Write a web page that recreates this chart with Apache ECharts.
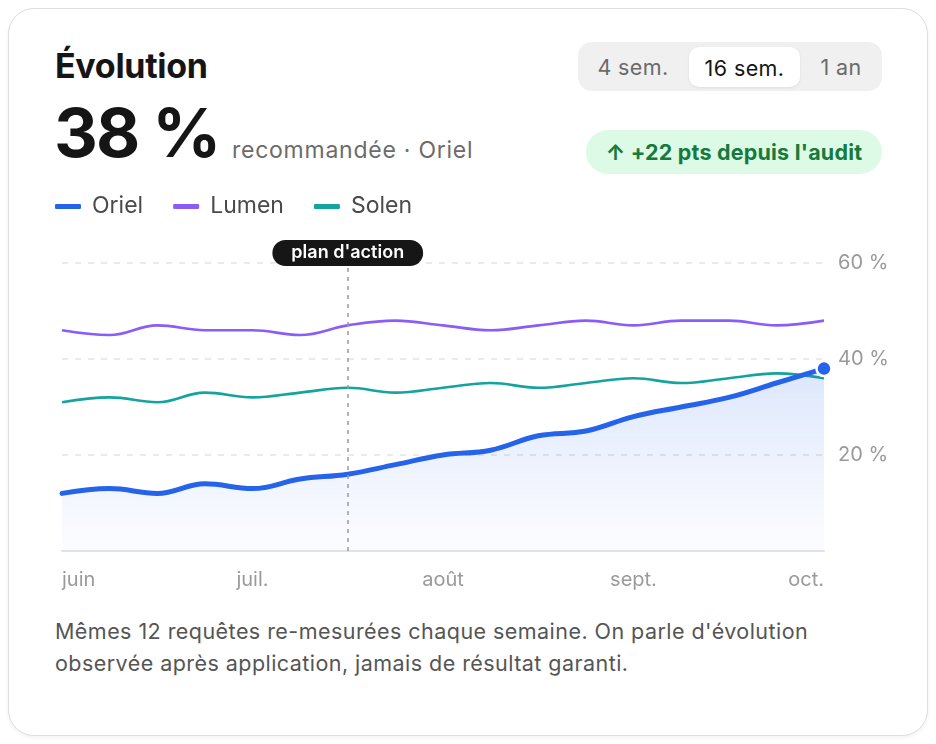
<!DOCTYPE html>
<html lang="fr">
<head>
<meta charset="utf-8">
<title>Évolution</title>
<script src="https://cdn.jsdelivr.net/npm/echarts@6/dist/echarts.min.js"></script>
<style>
  html, body { margin: 0; padding: 0; background: #fff; }
  body { width: 936px; height: 744px; position: relative; font-family: Inter, "Noto Sans", sans-serif; overflow: hidden; }
  .card {
    position: absolute; left: 8px; top: 8px; width: 918px; height: 726px;
    border: 1.5px solid #dedede; border-radius: 26px; background: #fff;
    box-shadow: 0 2px 4px rgba(0,0,0,0.05);
  }
  .title { position: absolute; left: 55px; top: 45px; font-size: 34px; font-weight: 700; color: #151515; letter-spacing: -0.3px; }
  .big { position: absolute; left: 54px; top: 92px; font-size: 68px; font-weight: 700; color: #151515; letter-spacing: -2px; line-height: 80px; }
  .sub { position: absolute; left: 232px; top: 136px; font-size: 23px; color: #6b6b6b; letter-spacing: 0.75px; }
  .seg {
    position: absolute; left: 578px; top: 42px; width: 304px; height: 49px;
    background: #f0f0f0; border-radius: 14px;
  }
  .seg span { position: absolute; top: 0; line-height: 51px; font-size: 21.5px; letter-spacing: 0.4px; color: #6a6a6a; text-align: center; }
  .seg .on {
    top: 5px; height: 40px; line-height: 42px; background: #fff; color: #141414;
    border-radius: 10px; box-shadow: 0 1px 3px rgba(0,0,0,0.08);
  }
  .badge {
    position: absolute; left: 586px; top: 130px; width: 296px; height: 44px;
    border-radius: 22px; background: #dcfae6; color: #177a3c;
    font-size: 21.5px; letter-spacing: 0.2px; font-weight: 700; line-height: 45px; text-align: center;
  }
  .note { position: absolute; left: 55px; top: 615px; width: 800px; font-size: 21.5px; letter-spacing: 0.45px; line-height: 32px; color: #555; }
  #chart { position: absolute; left: 0; top: 180px; width: 936px; height: 420px; }
</style>
</head>
<body>
<div class="card"></div>
<div class="title">Évolution</div>
<div class="big">38 %</div>
<div class="sub">recommandée · Oriel</div>
<div class="seg">
  <span style="left:0;width:110px">4 sem.</span>
  <span class="on" style="left:111px;width:111px">16 sem.</span>
  <span style="left:222px;width:82px">1 an</span>
</div>
<div class="badge">↑ +22 pts depuis l'audit</div>
<div id="chart"></div>
<div class="note">Mêmes 12 requêtes re-mesurées chaque semaine. On parle d'évolution<br>observée après application, jamais de résultat garanti.</div>

<script>
// semaines mesurées (17 points sur 16 semaines)
const weeks = ['S0','S1','S2','S3','S4','S5','S6','S7','S8','S9','S10','S11','S12','S13','S14','S15','S16']
const monthLabels = ['juin', 'juil.', 'août', 'sept.', 'oct.']

const oriel = [12, 13, 12, 14, 13, 15, 16, 18, 20, 21, 24, 25, 28, 30, 32, 35, 38]
const lumen = [46, 45, 47, 46, 46, 45, 47, 48, 47, 46, 47, 48, 47, 48, 48, 47, 48]
const solen = [31, 32, 31, 33, 32, 33, 34, 33, 34, 35, 34, 35, 36, 35, 36, 37, 36]

const actionWeek = 'S6'
const yTicks = [0, 20, 40, 60]

const BLUE = '#2563eb'
const PURPLE = '#8b5cf6'
const TEAL = '#14a39e'

var myChart = echarts.init(document.getElementById('chart'))

var option = {
  animation: false,
  textStyle: { fontFamily: 'Inter, "Noto Sans", sans-serif' },
  legend: {
    left: 50,
    top: 10,
    itemWidth: 26,
    itemHeight: 5,
    itemGap: 30,
    icon: 'roundRect',
    data: ['Oriel', 'Lumen', 'Solen'],
    textStyle: { fontSize: 23, color: '#4a4a4a', padding: [0, 0, 0, 6] }
  },
  grid: { left: 62, right: 112, top: 83, bottom: 49 },
  xAxis: {
    type: 'category',
    boundaryGap: false,
    data: weeks,
    axisLine: { lineStyle: { color: '#e3e3e3', width: 2 } },
    axisTick: { show: false },
    axisLabel: {
      interval: 3,
      margin: 19,
      fontSize: 20,
      color: '#9a9a9a',
      alignMinLabel: 'left',
      alignMaxLabel: 'right',
      formatter: (v, i) => monthLabels[i / 4] || ''
    },
    splitLine: { show: false }
  },
  yAxis: {
    type: 'value',
    position: 'right',
    min: yTicks[0],
    max: yTicks[yTicks.length - 1],
    interval: 20,
    axisLine: { show: false },
    axisTick: { show: false },
    axisLabel: {
      margin: 14,
      fontSize: 20,
      color: '#9a9a9a',
      formatter: v => v === 0 ? '' : v + ' %'
    },
    splitLine: { lineStyle: { color: '#e4e4e4', width: 1.5, type: [6, 7] } }
  },
  series: [
    {
      name: 'Oriel',
      type: 'line',
      data: oriel,
      smooth: 0.4,
      showSymbol: false,
      z: 4,
      color: BLUE,
      lineStyle: { width: 5, color: BLUE, cap: 'round' },
      areaStyle: {
        color: new echarts.graphic.LinearGradient(0, 0, 0, 1, [
          { offset: 0, color: 'rgba(37,99,235,0.22)' },
          { offset: 1, color: 'rgba(37,99,235,0.02)' }
        ])
      },
      markPoint: {
        symbol: 'circle',
        symbolSize: 15,
        itemStyle: { color: BLUE, borderColor: '#fff', borderWidth: 2.5 },
        label: { show: false },
        data: [{ coord: [weeks[weeks.length - 1], oriel[oriel.length - 1]] }]
      },
      markLine: {
        silent: true,
        symbol: 'none',
        lineStyle: { color: '#9a9a9a', type: [4, 5], width: 1.5 },
        label: {
          show: true,
          position: 'end',
          distance: -3,
          formatter: "plan d'action",
          color: '#fff',
          fontSize: 18,
          fontWeight: 600,
          backgroundColor: '#161616',
          borderRadius: 15,
          padding: [4, 19]
        },
        data: [{ xAxis: actionWeek }]
      }
    },
    {
      name: 'Lumen',
      type: 'line',
      data: lumen,
      smooth: 0.4,
      showSymbol: false,
      z: 3,
      color: PURPLE,
      lineStyle: { width: 2.6, color: PURPLE }
    },
    {
      name: 'Solen',
      type: 'line',
      data: solen,
      smooth: 0.4,
      showSymbol: false,
      z: 3,
      color: TEAL,
      lineStyle: { width: 2.6, color: TEAL }
    }
  ]
}

myChart.setOption(option)
window.addEventListener('resize', myChart.resize)
</script>
</body>
</html>
